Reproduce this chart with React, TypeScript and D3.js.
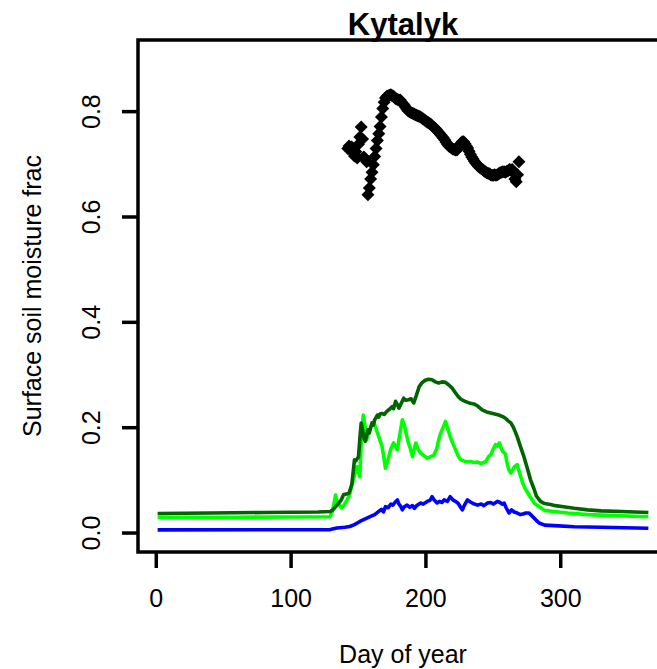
import React from "react";
import * as d3 from "d3";

// ---- data ----
const xTicks = [0, 100, 200, 300];
const yTicks = [0.0, 0.2, 0.4, 0.6, 0.8];
const yTickLabels = ["0.0", "0.2", "0.4", "0.6", "0.8"];

// dark green model series: [day, value]
const darkGreen: [number, number][] = [
  [1, 0.037], [40, 0.038], [80, 0.039], [120, 0.040], [129, 0.041], [131, 0.044], [133, 0.05],
  [135, 0.056], [137, 0.062], [139, 0.073], [141, 0.074], [143, 0.076], [145, 0.092], [146, 0.115],
  [147, 0.139], [148, 0.137], [150, 0.145], [151, 0.18], [152, 0.209], [153, 0.195], [154, 0.18],
  [155, 0.174], [156, 0.185], [157, 0.196], [158, 0.19], [160, 0.209], [161, 0.205], [162, 0.215],
  [164, 0.224], [165, 0.22], [166, 0.226], [167.5, 0.227], [169, 0.225], [171, 0.231], [173, 0.235],
  [175, 0.24], [176, 0.236], [177.5, 0.25], [179, 0.243], [180, 0.237], [182, 0.248], [183.5, 0.256],
  [185, 0.252], [187, 0.253], [189, 0.255], [191, 0.247], [193, 0.262], [195, 0.278], [197, 0.285],
  [199.5, 0.29], [202, 0.292], [204.5, 0.291], [207, 0.287], [209.5, 0.285], [212, 0.287],
  [214.5, 0.286], [217, 0.281], [219.5, 0.275], [222, 0.266], [224, 0.259], [226, 0.254],
  [229, 0.25], [232, 0.247], [235.5, 0.245], [238, 0.242], [241.7, 0.234], [245, 0.23], [248, 0.228],
  [251, 0.226], [254, 0.224], [257, 0.221], [259, 0.218], [261, 0.213], [263, 0.209], [265, 0.2],
  [267.7, 0.183], [270, 0.165], [272.7, 0.145], [275, 0.125], [277.6, 0.101], [280, 0.085],
  [282, 0.07], [285, 0.06], [288, 0.056], [292.5, 0.054], [296, 0.052], [302, 0.05], [310, 0.047],
  [320, 0.044], [330, 0.042], [345, 0.041], [365, 0.039],
];

// light green model series
const lightGreen: [number, number][] = [
  [1, 0.03], [60, 0.03], [129, 0.031], [131, 0.045], [133, 0.072], [134, 0.06], [135, 0.056],
  [137.5, 0.048], [139, 0.052], [141.5, 0.063], [143, 0.07], [145, 0.089], [147, 0.11], [149, 0.126],
  [151, 0.107], [152, 0.17], [153.5, 0.224], [155, 0.2], [156, 0.177], [157.5, 0.19], [159, 0.202],
  [161.5, 0.209], [163, 0.198], [165, 0.183], [167.5, 0.164], [169, 0.14], [170, 0.123],
  [172.5, 0.145], [174, 0.16], [176, 0.171], [178.8, 0.158], [180.5, 0.185], [182.5, 0.215],
  [184, 0.205], [185, 0.193], [187, 0.171], [188.5, 0.16], [190, 0.145], [192.5, 0.171], [194, 0.16],
  [196, 0.152], [198, 0.148], [201, 0.142], [203.5, 0.145], [206, 0.148], [208, 0.16], [209.5, 0.177],
  [211, 0.19], [213, 0.202], [214.5, 0.212], [216, 0.2], [218, 0.183], [220, 0.17], [222, 0.158],
  [224, 0.146], [225.8, 0.139], [228, 0.137], [230.8, 0.135], [233, 0.136], [235.8, 0.134],
  [238, 0.135], [240.8, 0.132], [243, 0.134], [244.5, 0.136], [246.5, 0.145], [248.2, 0.149],
  [250, 0.16], [251.6, 0.168], [253, 0.165], [254.5, 0.171], [256, 0.16], [257, 0.155], [259, 0.15],
  [260, 0.135], [261.5, 0.12], [263, 0.114], [265.7, 0.126], [267.7, 0.13], [269, 0.118],
  [271.8, 0.095], [273.5, 0.085], [275.6, 0.076], [278, 0.066], [280.6, 0.056], [284, 0.05],
  [288, 0.043], [295, 0.041], [305, 0.038], [320, 0.035], [340, 0.033], [365, 0.031],
];

// blue model series
const blue: [number, number][] = [
  [1, 0.006], [129, 0.0065], [134, 0.0095], [140, 0.011], [143.5, 0.0125], [147, 0.016], [151, 0.022],
  [155, 0.027], [159, 0.0315], [162, 0.035], [165, 0.041], [167, 0.045], [168.5, 0.04], [170, 0.05],
  [172, 0.048], [174, 0.055], [175.5, 0.053], [177, 0.058], [178.8, 0.063], [180, 0.055],
  [181.5, 0.05], [182.5, 0.044], [184, 0.05], [186, 0.053], [188, 0.049], [190, 0.052],
  [191.5, 0.047], [193, 0.052], [196, 0.057], [198, 0.055], [201, 0.06], [203, 0.062], [204.6, 0.069],
  [206, 0.063], [208.3, 0.057], [210, 0.06], [212, 0.058], [213.5, 0.063], [216, 0.06], [218, 0.069],
  [220, 0.063], [222, 0.06], [224, 0.056], [225.5, 0.05], [227, 0.044], [229, 0.055], [230.8, 0.063],
  [233, 0.059], [235, 0.056], [238.3, 0.053], [241, 0.055], [243, 0.052], [245.7, 0.057], [248, 0.058],
  [250, 0.055], [253, 0.06], [255, 0.058], [256.5, 0.055], [258, 0.057], [259.5, 0.048],
  [261.6, 0.038], [263.5, 0.044], [265.5, 0.04], [267.7, 0.038], [270, 0.035], [272, 0.036],
  [274, 0.038], [276.5, 0.038], [278.5, 0.033], [281.5, 0.025], [284, 0.019], [288, 0.015],
  [295, 0.014], [310, 0.012], [330, 0.011], [365, 0.009],
];

// observed (black diamonds), one per day from obsStartDay
const obsStartDay = 142;
const obsValues = [
  0.730, 0.735, 0.728, 0.733, 0.722, 0.716, 0.724, 0.712, 0.738, 0.752, 0.771, 0.748, 0.714, 0.710, 0.705,
  0.642, 0.655, 0.672, 0.685, 0.699, 0.715, 0.730, 0.745, 0.758, 0.772, 0.790, 0.806, 0.818, 0.826,
  0.829, 0.830, 0.831, 0.832, 0.830, 0.829, 0.826, 0.824, 0.823, 0.822,
  0.822, 0.818, 0.815, 0.812, 0.808, 0.804, 0.801, 0.800, 0.798, 0.797, 0.796, 0.794, 0.793, 0.792,
  0.791, 0.790, 0.788, 0.786, 0.784, 0.782, 0.780, 0.779, 0.777, 0.775, 0.772, 0.770, 0.768, 0.765,
  0.762, 0.759, 0.756, 0.753, 0.750, 0.746, 0.742, 0.738, 0.735, 0.733, 0.731, 0.729, 0.728, 0.727,
  0.727, 0.731, 0.736, 0.740, 0.743, 0.743, 0.739, 0.735, 0.731, 0.725, 0.719, 0.714, 0.710, 0.706,
  0.702, 0.699, 0.696, 0.694, 0.692, 0.690, 0.688, 0.686, 0.684, 0.683, 0.682, 0.680, 0.679, 0.679,
  0.680, 0.679, 0.680, 0.682, 0.684, 0.685, 0.686, 0.686, 0.685, 0.687, 0.688, 0.690, 0.689, 0.690,
  0.684, 0.672, 0.667, 0.680, 0.705,
];

const W = 657;
const H = 669;

export default function App() {
  const left = 138, right = 668, top = 40, bottom = 552;
  const x = d3.scaleLinear().domain([-13.56, 379.56]).range([left, right]);
  const y = d3.scaleLinear().domain([-0.036, 0.936]).range([bottom, top]);
  const line = d3
    .line<[number, number]>()
    .x((d) => x(d[0]))
    .y((d) => y(d[1]));

  const font = "Liberation Sans, Arial, sans-serif";
  const fs = 25;
  const dia = 6.5;
  const diamond = `M0,${-dia}L${dia},0L0,${dia}L${-dia},0Z`;

  return (
    <svg
      width={W}
      height={H}
      style={{ position: "absolute", left: 0, top: 0, display: "block", background: "#fff" }}
      fontFamily={font}
    >
      <rect x={0} y={0} width={W} height={H} fill="#fff" />
      {/* series */}
      <path d={line(lightGreen) || ""} fill="none" stroke="#00ff00" strokeWidth={3.6} strokeLinejoin="round" />
      <path d={line(darkGreen) || ""} fill="none" stroke="#006400" strokeWidth={3.6} strokeLinejoin="round" />
      <path d={line(blue) || ""} fill="none" stroke="#0000ff" strokeWidth={3.6} strokeLinejoin="round" />
      {obsValues.map((v, i) => (
        <path key={i} d={diamond} transform={`translate(${x(obsStartDay + i)},${y(v)})`} fill="#000" />
      ))}
      {/* box */}
      <rect x={left} y={top} width={right - left} height={bottom - top} fill="none" stroke="#000" strokeWidth={3.5} />
      {/* x axis */}
      {xTicks.map((t) => (
        <g key={t}>
          <line x1={x(t)} x2={x(t)} y1={bottom} y2={bottom + 16} stroke="#000" strokeWidth={3.5} />
          <text x={x(t)} y={607} textAnchor="middle" fontSize={fs} fill="#000">
            {t}
          </text>
        </g>
      ))}
      {/* y axis */}
      {yTicks.map((t, i) => (
        <g key={t}>
          <line x1={left - 16} x2={left} y1={y(t)} y2={y(t)} stroke="#000" strokeWidth={3.5} />
          <text
            transform={`translate(100,${y(t)}) rotate(-90)`}
            textAnchor="middle"
            fontSize={fs}
            fill="#000"
          >
            {yTickLabels[i]}
          </text>
        </g>
      ))}
      {/* titles */}
      <text x={403} y={35} textAnchor="middle" fontSize={31} fontWeight="bold" fill="#000">
        Kytalyk
      </text>
      <text x={403} y={663} textAnchor="middle" fontSize={fs} fill="#000">
        Day of year
      </text>
      <text transform={`translate(41,296) rotate(-90)`} textAnchor="middle" fontSize={fs} fill="#000">
        Surface soil moisture frac
      </text>
    </svg>
  );
}
